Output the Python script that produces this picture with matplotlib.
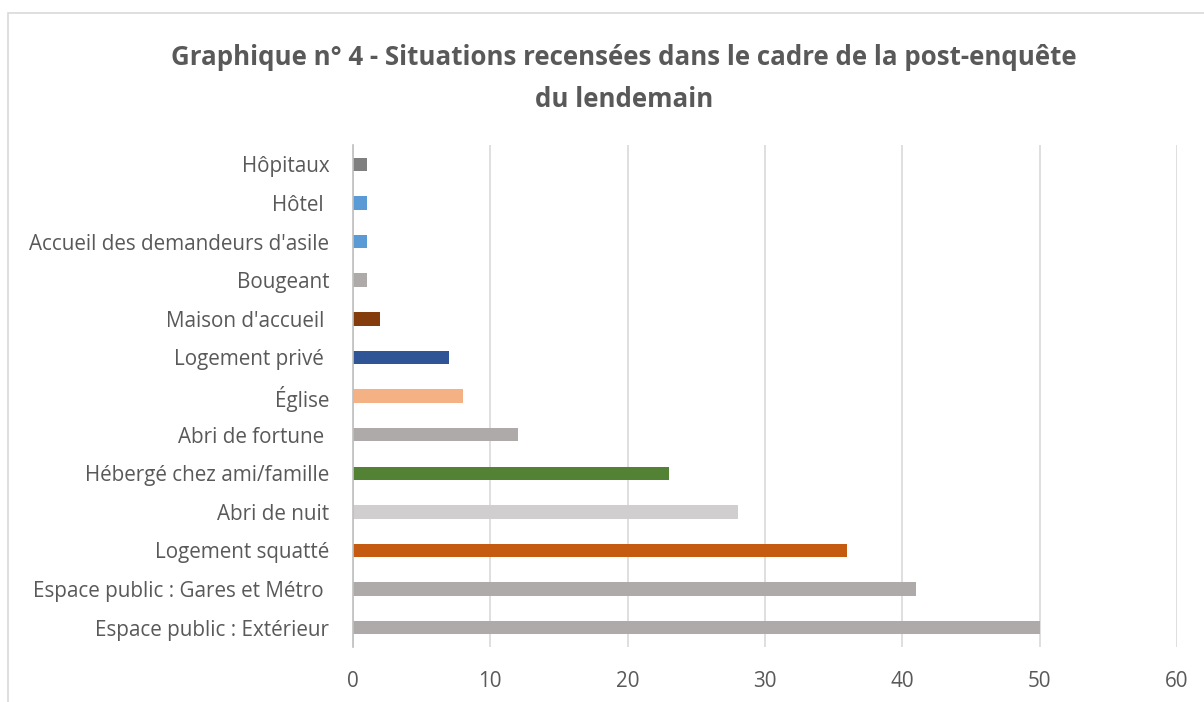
import matplotlib

matplotlib.use('Agg')

import matplotlib.pyplot as plt
from matplotlib.patches import Rectangle

# data, bottom to top as in the chart
categories = [
    "Espace public : Extérieur",
    "Espace public : Gares et Métro ",
    "Logement squatté",
    "Abri de nuit",
    "Hébergé chez ami/famille",
    "Abri de fortune ",
    "Église",
    "Logement privé ",
    "Maison d'accueil ",
    "Bougeant",
    "Accueil des demandeurs d'asile",
    "Hôtel ",
    "Hôpitaux",
]
values = [50, 41, 36, 28, 23, 12, 8, 7, 2, 1, 1, 1, 1]
colors = ['#AEAAAA', '#AEAAAA', '#C55A11', '#D0CECE', '#548235', '#AEAAAA',
          '#F4B183', '#2F5597', '#843C0C', '#AEAAAA', '#5B9BD5', '#5B9BD5', '#7F7F7F']
x_ticks = [0, 10, 20, 30, 40, 50, 60]

title = "Graphique n° 4 - Situations recensées dans le cadre de la post-enquête\ndu lendemain"

plt.rcParams['font.family'] = ['Open Sans', 'DejaVu Sans']
text_col = '#595959'

fig = plt.figure(figsize=(12.04, 7.02), dpi=100)
ax = fig.add_axes([0.2932, 0.0783, 0.6844, 0.7151])

ypos = list(range(len(categories)))
ax.barh(ypos, values, height=0.35, color=colors, zorder=3)

ax.set_xlim(0, 60)
ax.set_ylim(-0.5, len(categories) - 0.5)
ax.set_xticks(x_ticks)
ax.set_yticks(ypos)
ax.set_yticklabels(categories)
ax.tick_params(axis='both', length=0, colors=text_col, labelsize=14.9)
ax.tick_params(axis='x', pad=17)
ax.tick_params(axis='y', pad=17)

ax.grid(axis='x', color='#D9D9D9', linewidth=1.2, zorder=0)
for s in ['top', 'right', 'bottom']:
    ax.spines[s].set_visible(False)
ax.spines['left'].set_color('#BFBFBF')
ax.spines['left'].set_linewidth(1.2)
ax.spines['left'].set_zorder(4)

fig.text(0.518, 0.888, title, ha='center', va='center', fontsize=18.6,
         fontweight='bold', color=text_col, linespacing=1.7)

# chart frame
fig.patches.append(Rectangle((8 / 1204, -0.05), 1.1, 1 - 13 / 702 + 0.05,
                             transform=fig.transFigure, fill=False,
                             edgecolor='#D9D9D9', linewidth=1.2))

fig.savefig('out.png', dpi=100)
